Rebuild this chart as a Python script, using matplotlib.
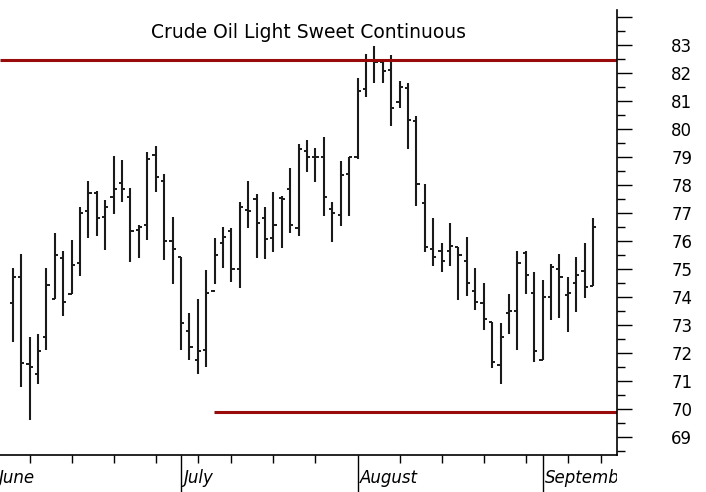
import numpy as np
import pandas as pd
import matplotlib
matplotlib.use("Agg")
import matplotlib.pyplot as plt
from matplotlib.ticker import MultipleLocator, FixedLocator, NullFormatter
from matplotlib.transforms import Bbox, TransformedBbox, blended_transform_factory

plt.rcParams['font.family'] = ['DejaVu Sans']

title = "Crude Oil Light Sweet Continuous"

# daily bars, 3 June 2010 -> 10 Sept 2010
opens = [73.79, 74.73, 71.60, 71.27, 72.56, 73.92, 75.40, 74.11, 75.20, 77.07,
         77.70, 76.87, 77.56, 78.08, 77.56, 76.40, 76.57, 79.07, 78.16, 76.00,
         75.44, 72.79, 71.77, 72.10, 74.20, 75.92, 76.36, 75.00, 77.10, 77.50,
         76.84, 76.10, 77.52, 77.86, 76.45, 79.20, 79.01, 79.01, 77.14, 76.93,
         78.40, 79.01, 81.43, 82.46, 82.40, 82.10, 80.95, 81.45, 80.30, 77.37,
         75.71, 75.64, 75.64, 75.80, 75.29, 74.21, 73.80, 73.12, 71.57, 73.42,
         73.50, 75.58, 74.13, 71.77, 74.00, 75.00, 74.07, 74.49, 74.93, 74.40]
highs = [75.04, 75.52, 72.58, 72.67, 75.03, 76.30, 75.65, 76.04, 77.23, 78.16,
         77.80, 77.45, 79.04, 78.89, 77.88, 76.57, 79.17, 79.39, 78.39, 76.87,
         75.44, 73.44, 73.94, 74.96, 76.10, 76.51, 76.45, 77.38, 78.16, 77.68,
         77.23, 77.74, 77.61, 78.60, 79.45, 79.61, 79.31, 79.73, 77.40, 78.87,
         79.01, 81.81, 82.68, 82.96, 82.46, 82.64, 81.73, 81.63, 80.46, 78.03,
         76.81, 75.94, 76.66, 75.80, 76.15, 75.03, 74.51, 73.12, 73.08, 74.10,
         75.65, 75.65, 74.88, 74.61, 75.17, 75.52, 74.73, 75.44, 75.94, 76.81]
lows = [72.39, 70.80, 69.61, 70.88, 72.11, 73.92, 73.33, 74.11, 74.75, 76.10,
        76.18, 75.68, 76.96, 77.40, 75.24, 75.41, 76.04, 77.76, 75.32, 74.46,
        72.11, 71.75, 71.24, 71.51, 74.46, 75.05, 74.52, 74.33, 76.48, 75.41,
        75.35, 75.62, 75.76, 76.27, 76.18, 78.48, 78.12, 76.90, 75.98, 76.54,
        76.90, 78.93, 81.13, 81.63, 81.63, 80.12, 80.76, 79.27, 77.25, 75.62,
        75.12, 74.90, 75.12, 73.89, 74.05, 73.54, 72.82, 71.45, 70.88, 72.67,
        72.11, 74.10, 71.67, 71.75, 73.18, 73.26, 72.74, 73.45, 73.95, 74.39]
closes = [74.71, 71.63, 71.51, 72.07, 74.43, 75.50, 73.84, 75.14, 77.01, 77.73,
          76.84, 77.23, 77.85, 77.85, 76.37, 76.49, 78.92, 78.30, 76.01, 75.71,
          73.06, 72.20, 72.07, 74.13, 75.50, 76.13, 74.99, 77.20, 77.08, 76.63,
          76.07, 76.57, 77.50, 76.57, 79.27, 79.01, 79.00, 77.58, 77.01, 78.36,
          79.01, 81.37, 82.46, 82.40, 82.08, 80.74, 81.51, 80.32, 78.03, 75.77,
          75.42, 75.29, 75.83, 75.50, 74.49, 73.83, 73.21, 71.69, 72.56, 73.50,
          75.23, 74.79, 72.07, 73.99, 75.06, 74.70, 74.13, 74.79, 74.35, 76.51]

resistance = 82.45
support = 69.9
support_from = "2010-07-08"

month_names = ["June", "July", "August", "September"]
y_labels = list(range(69, 84))

# trading calendar (holidays removed), first two days before the first bar
dates = pd.bdate_range("2010-06-01", "2010-09-13")
dates = dates.drop(pd.to_datetime(["2010-07-05", "2010-09-06"]))
pos = np.arange(len(dates))
first_bar = list(dates).index(pd.Timestamp("2010-06-03"))
xb = pos[first_bar:first_bar + len(closes)]

fig = plt.figure(figsize=(7.06, 4.92), dpi=100)
ax = fig.add_axes([0, 37 / 492, 617 / 706, 445 / 492])

bar_col = "#1a1a1a"
ax.vlines(xb, lows, highs, color=bar_col, lw=1.5)
ax.hlines(opens, xb - 0.38, xb, color=bar_col, lw=1.4)
ax.hlines(closes, xb, xb + 0.38, color=bar_col, lw=1.4)

x0, x1 = 0.49, 73.85
red = "#990b0b"
ax.hlines(resistance, x0, x1, color=red, lw=2.2)
sx = list(dates).index(pd.Timestamp(support_from)) - 0.05
ax.hlines(support, sx, x1, color=red, lw=2.2)

ax.set_xlim(x0, x1)
ax.set_ylim(68.36, 84.25)

for s in ["left", "top"]:
    ax.spines[s].set_visible(False)
for s in ["right", "bottom"]:
    ax.spines[s].set_linewidth(1.2)

# y axis on the right
ax.yaxis.tick_right()
ax.set_yticks(y_labels + [84])
ax.set_yticklabels([str(v) for v in y_labels] + [""])
ax.yaxis.set_minor_locator(MultipleLocator(0.5))
ax.tick_params(axis="y", which="major", length=11, width=1, pad=28, labelsize=12)
ax.tick_params(axis="y", which="minor", length=6, width=1)

# x axis: months as long ticks, weeks as short ones
month_start = [i for i in range(len(dates)) if i == 0 or dates[i].month != dates[i - 1].month]
week_start = [i for i in range(1, len(dates))
              if dates[i].isocalendar()[1] != dates[i - 1].isocalendar()[1] and i not in month_start]
ax.xaxis.set_major_locator(FixedLocator(pos[month_start]))
ax.xaxis.set_minor_locator(FixedLocator(pos[week_start]))
ax.xaxis.set_major_formatter(NullFormatter())
ax.tick_params(axis="x", which="major", length=27, width=1)
ax.tick_params(axis="x", which="minor", length=6, width=1)

trans = blended_transform_factory(ax.transData, ax.transAxes)
clip = TransformedBbox(Bbox([[0, 0], [617 / 706, 1]]), fig.transFigure)
for name, i in zip(month_names, month_start):
    t = ax.text(pos[i] + 0.3, -0.052, name, transform=trans, ha="left", va="center",
                fontsize=12, style="italic", clip_on=True)
    t.set_clip_box(clip)

ax.text(0.5, 0.95, title, transform=ax.transAxes, ha="center", va="center", fontsize=13.5)

fig.savefig("out.png", dpi=100)
